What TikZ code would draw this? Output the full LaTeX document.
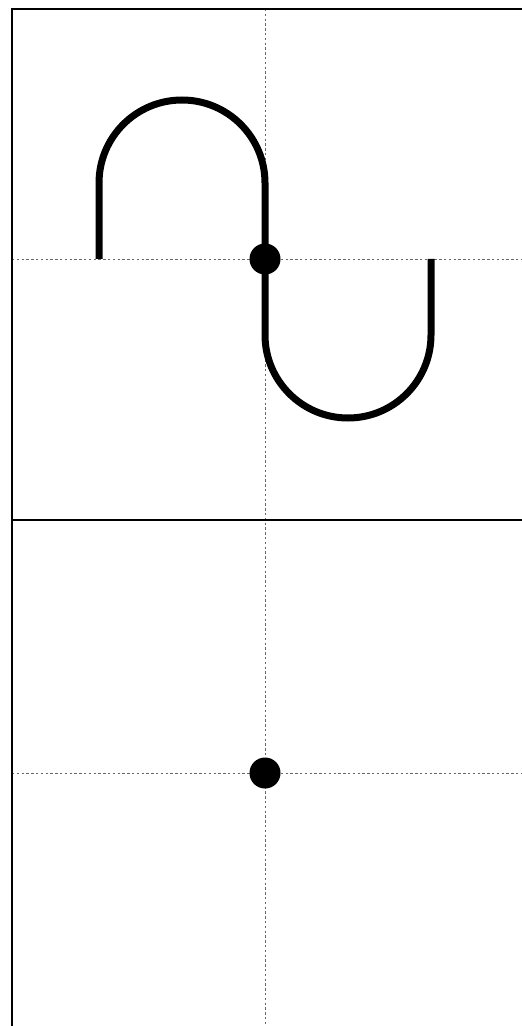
\documentclass[tikz,border=0pt]{standalone}
\begin{document}
\begin{tikzpicture}[x=0.5pt,y=-0.5pt,
  frameline/.style={line width=1.4pt,black},
  guide/.style={line width=0.35pt,gray!80!black,dash pattern=on 1.2pt off 1.2pt},
  curve/.style={line width=3.5pt,black,line cap=butt},
  dot/.style={circle,fill=black,inner sep=0pt,minimum size=15.5pt}]
\useasboundingbox (0,0) rectangle (522,1026);
\fill[white] (0,0) rectangle (522,1026);
% guides
\draw[guide] (265,9) -- (265,1026);
\draw[guide] (12,259) -- (522,259);
\draw[guide] (12,773) -- (522,773);
% frame
\draw[frameline] (522,9) -- (12,9) -- (12,1026);
\draw[frameline] (12,520) -- (522,520);
% curve
\coordinate (s) at (99,259);
\coordinate (e) at (431,259);
\draw[curve] (s) -- (99,183) arc[start angle=180,end angle=360,radius=83] -- (265,335)
  arc[start angle=180,end angle=0,radius=83] -- (e);
% dots
\node[dot] (d1) at (265,259) {};
\node[dot] (d2) at (265,773) {};
\end{tikzpicture}
\end{document}
